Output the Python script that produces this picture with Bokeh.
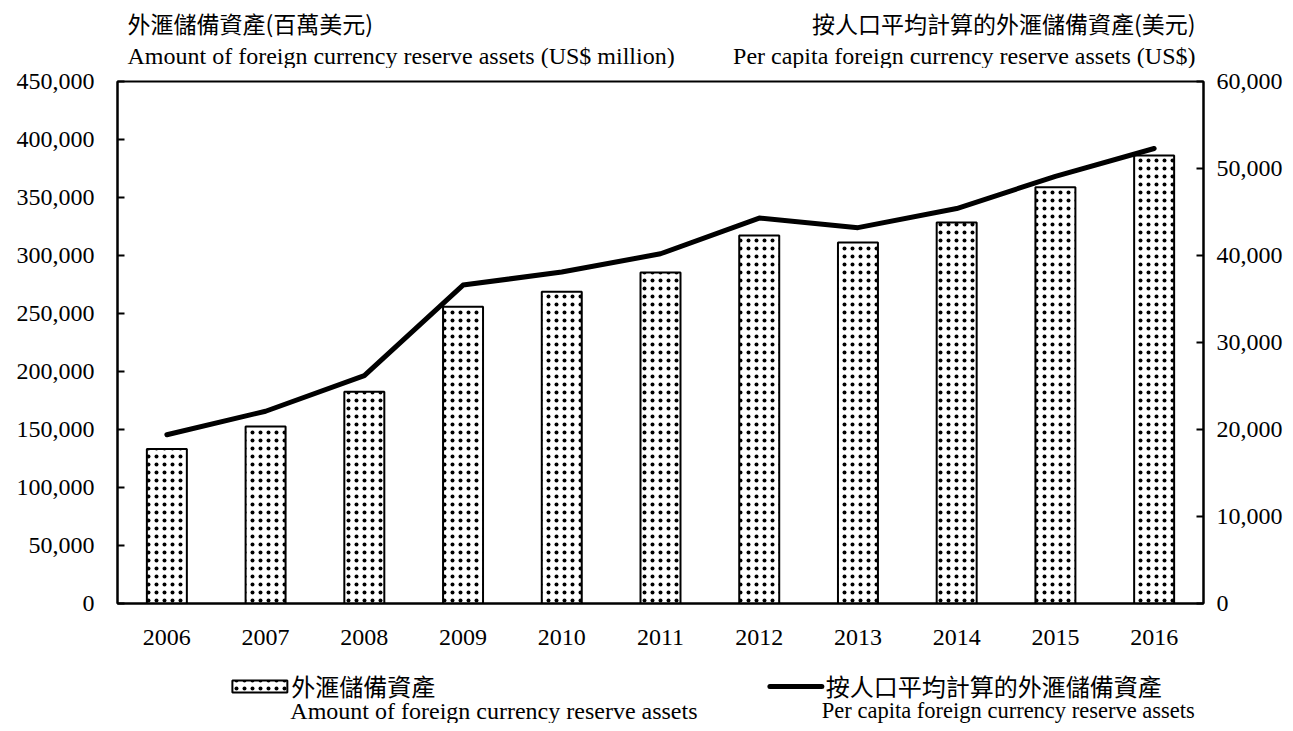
from bokeh.plotting import figure
from bokeh.layouts import column
from bokeh.models import (Range1d, LinearAxis, FactorRange, NumeralTickFormatter, FixedTicker)
from bokeh.core.properties import value
from bokeh.embed import file_html
from bokeh.resources import INLINE

years = ["2006", "2007", "2008", "2009", "2010", "2011", "2012", "2013", "2014", "2015", "2016"]
reserves = [133210, 152637, 182469, 255768, 268731, 285405, 317251, 311203, 328436, 358751, 386248]
per_capita = [19400, 22100, 26200, 36600, 38100, 40200, 44300, 43200, 45400, 49100, 52300]

left_ticks = [0, 50000, 100000, 150000, 200000, 250000, 300000, 350000, 400000, 450000]
right_ticks = [0, 10000, 20000, 30000, 40000, 50000, 60000]

title_left_zh = "外滙儲備資產(百萬美元)"
title_left_en = "Amount of foreign currency reserve assets (US$ million)"
title_right_zh = "按人口平均計算的外滙儲備資產(美元)"
title_right_en = "Per capita foreign currency reserve assets (US$)"
legend_bar_zh = "外滙儲備資產"
legend_bar_en = "Amount of foreign currency reserve assets"
legend_line_zh = "按人口平均計算的外滙儲備資產"
legend_line_en = "Per capita foreign currency reserve assets"

SERIF = "Liberation Serif"
CJK = "Noto Sans CJK TC"
W = 1285
BL, BR = 117, 81          # left / right borders shared by all stacked figures
FRAME_L, FRAME_R = BL, W - BR
TOP_H = 68
MAIN_TOP = 13
MAIN_H = MAIN_TOP + 522 + 57
BOT_H = 723 - TOP_H - MAIN_H

BAR_STYLE = dict(fill_color="white", line_color="black", line_width=2,
                 hatch_pattern="dot", hatch_color="black", hatch_scale=8, hatch_weight=1)


def text_fig(h):
    f = figure(width=W, height=h, x_range=Range1d(FRAME_L, FRAME_R), y_range=Range1d(h, 0),
               output_backend="svg", toolbar_location=None,
               min_border_left=BL, min_border_right=BR, min_border_top=0, min_border_bottom=0,
               x_axis_type=None, y_axis_type=None)
    f.outline_line_color = None
    f.xgrid.visible = False
    f.ygrid.visible = False
    return f


def txt(f, x, y, s, font, size, align="left"):
    f.text(x=[x], y=[y], text=[s], text_font=value(font), text_font_size=size,
           text_align=align, text_baseline="middle", text_color="black")


# ---- header with axis titles (x in page pixels)
top = text_fig(TOP_H)
txt(top, 127, 22, title_left_zh, CJK, "23px")
txt(top, 127, 55, title_left_en, SERIF, "24px")
txt(top, 1196, 22, title_right_zh, CJK, "23px", "right")
txt(top, 1196, 55, title_right_en, SERIF, "24px", "right")

# ---- main chart
p = figure(x_range=FactorRange(*years), y_range=Range1d(0, 450000),
           width=W, height=MAIN_H, output_backend="svg", toolbar_location=None,
           min_border_left=BL, min_border_right=BR, min_border_top=MAIN_TOP, min_border_bottom=57)
p.extra_y_ranges = {"pc": Range1d(0, 60000)}

p.vbar(x=years, top=reserves, width=0.405, **BAR_STYLE)
p.line(x=years, y=per_capita, y_range_name="pc", line_color="black",
       line_width=5, line_cap="round", line_join="round")

p.xgrid.visible = False
p.ygrid.visible = False
p.outline_line_color = "black"
p.outline_line_width = 2
p.outline_line_alpha = 1


def style_y(ax, standoff):
    ax.major_tick_in = 7
    ax.major_tick_out = 0
    ax.minor_tick_line_color = None
    ax.axis_line_width = 2
    ax.major_tick_line_width = 2
    ax.major_label_text_font = SERIF
    ax.major_label_text_font_size = "24px"
    ax.major_label_text_color = "black"
    ax.major_label_standoff = standoff


ya = p.yaxis[0]
ya.ticker = FixedTicker(ticks=left_ticks)
ya.formatter = NumeralTickFormatter(format="0,0")
style_y(ya, 23)

ra = LinearAxis(y_range_name="pc", ticker=FixedTicker(ticks=right_ticks),
                formatter=NumeralTickFormatter(format="0,0"))
style_y(ra, 13)
p.add_layout(ra, "right")

xa = p.xaxis[0]
xa.major_tick_line_color = None
xa.minor_tick_line_color = None
xa.axis_line_width = 2
xa.major_label_text_font = SERIF
xa.major_label_text_font_size = "24px"
xa.major_label_text_color = "black"
xa.major_label_standoff = 20

# ---- legend (page x pixels, local y)
bot = text_fig(BOT_H)
bot.quad(left=[232], right=[287], top=[20], bottom=[32], **BAR_STYLE)
txt(bot, 291, 25, legend_bar_zh, CJK, "24px")
txt(bot, 290, 50, legend_bar_en, SERIF, "24px")
bot.line(x=[770, 822], y=[26, 26], line_color="black", line_width=5, line_cap="round")
txt(bot, 826, 25, legend_line_zh, CJK, "24px")
txt(bot, 822, 50, legend_line_en, SERIF, "22.5px")

layout = column(top, p, bot, spacing=0)
open("out.html", "w").write(file_html(layout, INLINE))
